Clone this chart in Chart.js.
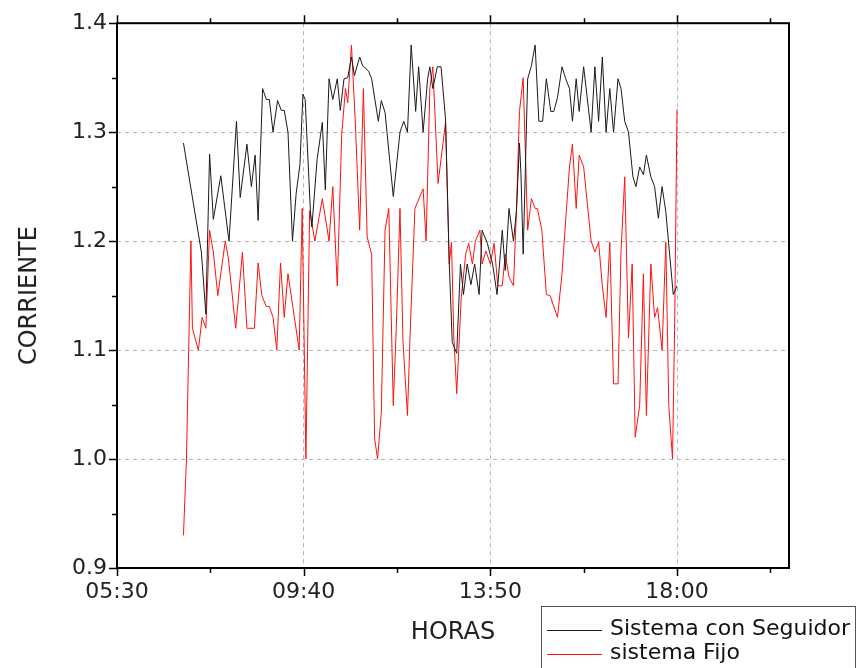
<!DOCTYPE html>
<html>
<head>
<meta charset="utf-8">
<script src="https://cdn.jsdelivr.net/npm/chart.js@4"></script>
<style>
  html, body { margin: 0; padding: 0; background: #fff; }
  #caja { width: 863px; height: 668px; }
</style>
</head>
<body>
<div id="caja"><canvas id="graficoCorriente" width="863" height="668"></canvas></div>
<script>
// Sistema con Seguidor
const seguidorHoras = ['06:59','07:23','07:29','07:34','07:39','07:49','08:00','08:10','08:15','08:24','08:30','08:35','08:39','08:45','08:50','08:54','08:59','09:05','09:10','09:14','09:19','09:25','09:30','09:35','09:39','09:42','09:49','09:51','09:58','10:05','10:09','10:14','10:19','10:25','10:29','10:34','10:39','10:44','10:48','10:55','10:59','11:07','11:11','11:20','11:24','11:29','11:40','11:49','11:54','11:59','12:04','12:10','12:14','12:20','12:26','12:29','12:33','12:39','12:44','12:50','12:55','12:59','13:05','13:10','13:14','13:19','13:24','13:29','13:35','13:39','13:46','13:53','13:59','14:06','14:10','14:15','14:21','14:25','14:29','14:31','14:34','14:40','14:45','14:50','14:55','15:00','15:05','15:11','15:15','15:20','15:26','15:31','15:36','15:40','15:45','15:49','15:55','16:05','16:10','16:15','16:20','16:25','16:30','16:35','16:41','16:45','16:50','16:55','17:01','17:05','17:10','17:15','17:19','17:25','17:30','17:35','17:40','17:45','17:55','18:00'];
const seguidorCorriente = [1.29,1.19,1.133,1.28,1.22,1.26,1.20,1.31,1.24,1.289,1.25,1.279,1.219,1.34,1.33,1.33,1.30,1.329,1.32,1.32,1.30,1.20,1.244,1.27,1.335,1.33,1.228,1.213,1.275,1.309,1.247,1.349,1.33,1.349,1.32,1.349,1.35,1.369,1.352,1.369,1.361,1.356,1.349,1.31,1.329,1.318,1.241,1.30,1.31,1.30,1.38,1.319,1.36,1.30,1.349,1.36,1.34,1.36,1.36,1.312,1.179,1.107,1.097,1.179,1.151,1.179,1.16,1.179,1.151,1.21,1.198,1.179,1.151,1.21,1.173,1.23,1.20,1.228,1.29,1.262,1.188,1.349,1.361,1.38,1.31,1.31,1.349,1.319,1.319,1.332,1.36,1.349,1.34,1.31,1.349,1.319,1.36,1.30,1.36,1.31,1.369,1.30,1.34,1.30,1.349,1.34,1.31,1.30,1.259,1.25,1.268,1.261,1.279,1.259,1.25,1.221,1.25,1.227,1.151,1.159];

// sistema Fijo
const fijoHoras = ['06:59','07:03','07:09','07:11','07:19','07:24','07:29','07:34','07:39','07:45','07:55','07:59','08:09','08:18','08:24','08:34','08:39','08:44','08:50','08:54','08:59','09:04','09:09','09:14','09:19','09:34','09:38','09:43','09:48','09:55','10:05','10:14','10:19','10:25','10:31','10:36','10:39','10:44','10:49','10:55','11:00','11:05','11:11','11:15','11:19','11:24','11:29','11:34','11:40','11:44','11:49','11:53','11:59','12:03','12:09','12:20','12:24','12:29','12:33','12:40','12:50','12:55','12:58','13:01','13:05','13:11','13:17','13:21','13:26','13:30','13:36','13:39','13:44','13:50','13:55','14:00','14:06','14:10','14:15','14:21','14:25','14:29','14:34','14:40','14:45','14:50','14:53','14:59','15:05','15:10','15:20','15:26','15:31','15:36','15:40','15:45','15:49','15:55','16:05','16:10','16:15','16:20','16:25','16:30','16:35','16:41','16:45','16:50','16:55','17:00','17:04','17:10','17:15','17:19','17:25','17:30','17:34','17:40','17:45','17:49','17:54','17:57','18:00'];
const fijoCorriente = [0.93,1.00,1.20,1.12,1.10,1.13,1.12,1.21,1.19,1.15,1.20,1.185,1.12,1.19,1.12,1.12,1.18,1.15,1.14,1.14,1.13,1.10,1.18,1.13,1.17,1.10,1.23,1.00,1.228,1.20,1.239,1.20,1.25,1.159,1.298,1.34,1.327,1.38,1.312,1.21,1.34,1.204,1.188,1.019,1.00,1.043,1.21,1.23,1.049,1.12,1.23,1.108,1.04,1.123,1.23,1.248,1.20,1.34,1.36,1.253,1.309,1.179,1.199,1.114,1.06,1.148,1.188,1.198,1.179,1.20,1.21,1.179,1.191,1.179,1.198,1.159,1.159,1.188,1.167,1.159,1.228,1.319,1.35,1.21,1.239,1.23,1.23,1.21,1.151,1.15,1.13,1.17,1.22,1.268,1.289,1.23,1.279,1.268,1.20,1.19,1.199,1.159,1.13,1.199,1.069,1.069,1.19,1.259,1.111,1.179,1.02,1.049,1.17,1.04,1.179,1.13,1.139,1.10,1.199,1.049,1.00,1.13,1.321];

// ejes
const xTickLabels = ['05:30','09:40','13:50','18:00'];
const xMinorTicks = ['07:35','11:45','15:55','20:05'];
const yTickLabels = [0.9, 1.0, 1.1, 1.2, 1.3, 1.4];
const yMinorTicks = [0.95, 1.05, 1.15, 1.25, 1.35];

const aMinutos = h => { const [hh, mm] = h.split(':').map(Number); return hh * 60 + mm; };
const aHora = m => String(Math.floor(m / 60)).padStart(2, '0') + ':' + String(m % 60).padStart(2, '0');

const xMayores = xTickLabels.map(aMinutos);
const xMenores = xMinorTicks.map(aMinutos);
const fuente = 'DejaVu Sans';

const puntos = (horas, valores) => horas.map((h, i) => ({ x: aMinutos(h), y: valores[i] }));

// marco y marcas de los ejes
const marcoPlugin = {
  id: 'marco',
  afterDraw(chart) {
    const { ctx, chartArea: a, scales: { x, y } } = chart;
    ctx.save();
    ctx.strokeStyle = '#000';
    ctx.lineWidth = 1.5;
    ctx.beginPath();
    xMayores.concat(xMenores).forEach(v => {
      const px = Math.round(x.getPixelForValue(v)) + 0.5;
      const len = xMayores.includes(v) ? 8 : 5;
      ctx.moveTo(px, a.bottom); ctx.lineTo(px, a.bottom + len);
      ctx.moveTo(px, a.top); ctx.lineTo(px, a.top - len);
    });
    yTickLabels.concat(yMinorTicks).forEach(v => {
      const py = Math.round(y.getPixelForValue(v)) + 0.5;
      const len = yTickLabels.includes(v) ? 8 : 5;
      ctx.moveTo(a.left, py); ctx.lineTo(a.left - len, py);
    });
    ctx.stroke();
    ctx.lineWidth = 2;
    ctx.strokeRect(a.left, a.top, a.right - a.left, a.bottom - a.top);
    ctx.restore();
  }
};

// leyenda en la esquina inferior derecha
const leyendaPlugin = {
  id: 'leyenda',
  afterDraw(chart) {
    const { ctx } = chart;
    ctx.save();
    ctx.fillStyle = '#fff';
    ctx.fillRect(541.5, 606.5, 314, 64);
    ctx.strokeStyle = '#555';
    ctx.lineWidth = 1;
    ctx.strokeRect(541.5, 606.5, 314, 64);
    ctx.font = '22px "' + fuente + '"';
    ctx.textBaseline = 'middle';
    chart.data.datasets.forEach((ds, i) => {
      const yy = 630 + i * 24;
      ctx.strokeStyle = ds.borderColor;
      ctx.beginPath();
      ctx.moveTo(547, yy + 0.5); ctx.lineTo(602, yy + 0.5);
      ctx.stroke();
      ctx.fillStyle = '#111';
      ctx.fillText(ds.label, 610, yy - 1);
    });
    ctx.restore();
  }
};

const ctxCorriente = document.getElementById('graficoCorriente').getContext('2d');
new Chart(ctxCorriente, {
  type: 'line',
  data: {
    datasets: [{
      label: 'Sistema con Seguidor',
      data: puntos(seguidorHoras, seguidorCorriente),
      borderColor: '#1a1a1a',
      borderWidth: 1,
      pointRadius: 0,
      tension: 0
    }, {
      label: 'sistema Fijo',
      data: puntos(fijoHoras, fijoCorriente),
      borderColor: '#ff1010',
      borderWidth: 1,
      pointRadius: 0,
      tension: 0
    }]
  },
  options: {
    responsive: false,
    animation: false,
    layout: { padding: { top: 20, right: 74, left: 0, bottom: 0 } },
    plugins: { legend: { display: false }, tooltip: { enabled: false } },
    scales: {
      x: {
        type: 'linear',
        min: aMinutos('05:30'),
        max: aMinutos('20:30'),
        afterBuildTicks: s => { s.ticks = xMayores.map(v => ({ value: v })); },
        afterFit: s => { s.height = 100; },
        ticks: {
          autoSkip: false,
          maxRotation: 0,
          padding: 11,
          color: '#222',
          font: { family: fuente, size: 22 },
          callback: v => aHora(v)
        },
        grid: {
          drawTicks: false,
          color: c => (c.tick && c.tick.value !== xMayores[0]) ? '#b5b5b5' : 'transparent',
          lineWidth: 1
        },
        border: { display: false, dash: [4, 4] },
        title: {
          display: true,
          text: 'HORAS',
          color: '#222',
          font: { family: fuente, size: 24 },
          padding: { top: 0, bottom: 21 }
        }
      },
      y: {
        min: 0.9,
        max: 1.4,
        afterBuildTicks: s => { s.ticks = yTickLabels.map(v => ({ value: v })); },
        afterFit: s => { s.width = 117; },
        ticks: {
          padding: 10,
          color: '#222',
          font: { family: fuente, size: 22 },
          callback: v => v.toFixed(1)
        },
        grid: {
          drawTicks: false,
          color: c => (c.tick && c.tick.value > 0.95 && c.tick.value < 1.35) ? '#b5b5b5' : 'transparent',
          lineWidth: 1
        },
        border: { display: false, dash: [4, 4] },
        title: {
          display: true,
          text: 'CORRIENTE',
          color: '#222',
          font: { family: fuente, size: 24 },
          padding: { top: 15, bottom: 0 }
        }
      }
    }
  },
  plugins: [marcoPlugin, leyendaPlugin]
});
</script>
</body>
</html>
